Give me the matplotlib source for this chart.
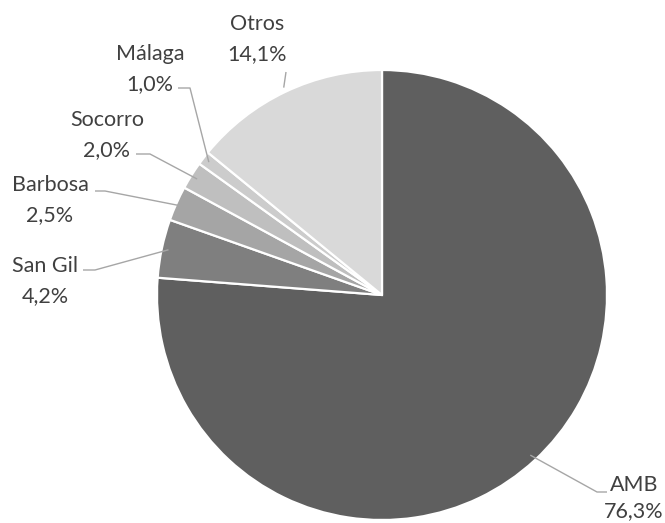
import numpy as np
import matplotlib.pyplot as plt

plt.rcParams['font.family'] = ['Lato', 'DejaVu Sans']

labels = ['AMB', 'San Gil', 'Barbosa', 'Socorro', 'Málaga', 'Otros']
values = [76.3, 4.2, 2.5, 2.0, 1.0, 14.1]
pct_text = ['76,3%', '4,2%', '2,5%', '2,0%', '1,0%', '14,1%']
colors = ['#5f5f5f', '#7f7f7f', '#a5a5a5', '#bfbfbf', '#cccccc', '#d9d9d9']

W, H = 665, 523
cx, cy, r = 382, H - 295, 225

# label block centre and leader elbow (pixel layout, y from top)
lab_pos = [(634, 498), (45, 281), (50, 200), (107, 135), (150, 69), (257, 39)]
lab_ls = [1.4, 1.65, 1.65, 1.65, 1.65, 1.65]
elbow = [[(607, 492), (597, 492)], [(83, 270), (95, 270)], [(95, 191), (105, 191)],
         [(136, 154), (150, 154)], [(178, 88), (190, 88)], [(286, 72), (286, 72)]]

fig = plt.figure(figsize=(W / 100, H / 100), dpi=100)
ax = fig.add_axes([0, 0, 1, 1])

wedges, _ = ax.pie(values, colors=colors, startangle=90, counterclock=False,
                   center=(cx, cy), radius=r, frame=True,
                   wedgeprops=dict(edgecolor='white', linewidth=1.6))
ax.set_xlim(0, W)
ax.set_ylim(0, H)
ax.set_aspect('equal')
ax.axis('off')

for i, w in enumerate(wedges):
    ang = np.deg2rad((w.theta1 + w.theta2) / 2)
    rr = r * (0.97 if i != 5 else 1.02)
    px, py = cx + rr * np.cos(ang), cy + rr * np.sin(ang)
    pts = [(x, H - y) for x, y in elbow[i]]
    xs = [pts[0][0], pts[1][0], px]
    ys = [pts[0][1], pts[1][1], py]
    ax.plot(xs, ys, color='#a6a6a6', lw=1.0, solid_capstyle='butt')
    lx, ly = lab_pos[i]
    ax.text(lx, H - ly, labels[i] + '\n' + pct_text[i], ha='center', va='center',
            fontsize=15.5, color='#404040', linespacing=lab_ls[i])

fig.savefig('out.png', dpi=100)
